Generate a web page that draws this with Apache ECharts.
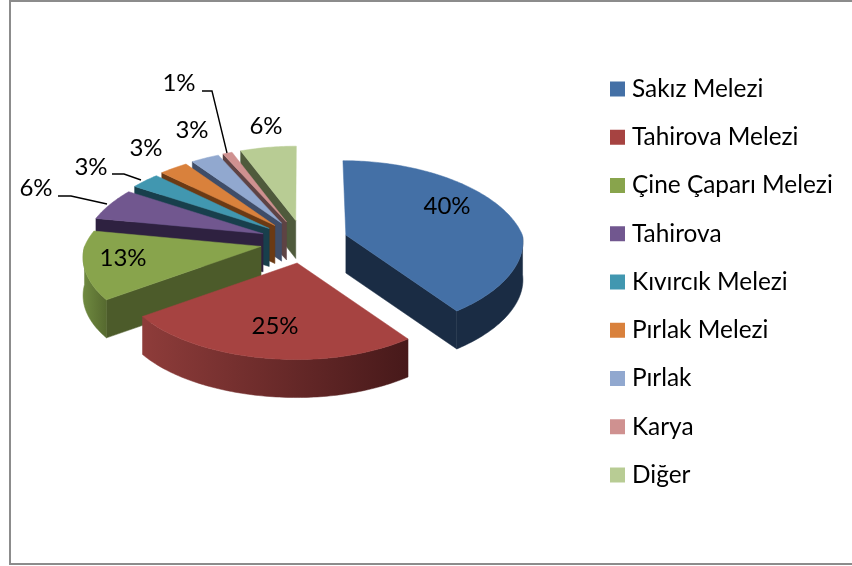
<!DOCTYPE html>
<html><head><meta charset="utf-8">
<style>html,body{margin:0;padding:0;background:#fff}#c{width:852px;height:566px}</style>
<script src="https://cdn.jsdelivr.net/npm/echarts@6/dist/echarts.min.js"></script>
</head><body><div id="c"></div>
<script>
const categories = ['Sakız Melezi','Tahirova Melezi','Çine Çaparı Melezi','Tahirova','Kıvırcık Melezi','Pırlak Melezi','Pırlak','Karya','Diğer'];
const values = [40,25,13,6,3,3,3,1,6];
const topColors = ['#4470A6','#A64341','#88A44C','#71578F','#4197B0','#D9813C','#91A8CF','#CF9190','#B8CC94'];
const cutColors = ['#1A2C44','#4A1A18','#4C5B2A','#2E2140','#183F4C','#6B3A14','#3F4D68','#5E4344','#4F5A3C'];
const arcColors = [['#1A2C44','#1A2C44'],['#8E3C3A','#47191A'],['#6F8A40','#56692F'],['#2E2140','#2E2140'],['#183F4C','#183F4C'],['#6B3A14','#6B3A14'],['#3F4D68','#3F4D68'],['#5E4344','#5E4344'],['#4F5A3C','#4F5A3C']];
// label layout
const labelAt = [[447,206],[275,326],[123,258],[36,188],[91,167],[146,148],[192,130],[179,83],[266,126]];
const leaderAt = {3:[[58,196],[71,196],[107,204]],4:[[112,174],[124,174],[141,180]],7:[[202,91],[212,91],[227,153]]};

const FONT = 'Lato, Carlito, sans-serif';
const CX=304, CY=241.7, EXPLODE=44, EXPLODE_Y=0.49, A=176.5, B=84, PX_RIGHT=0.08, PX_LEFT=0.13, PX_BACK=0.18, PY=0.13, SKEW=0.07, DEPTH=38;
const total = values.reduce((a,b)=>a+b,0);
const rad = d=>d*Math.PI/180;
function angles(i){
  let s=0; for(let k=0;k<i;k++) s+=values[k];
  return [s/total*360,(s+values[i])/total*360];
}
function apex(mid){ return [CX+EXPLODE*Math.sin(rad(mid)), CY-EXPLODE*EXPLODE_Y*Math.cos(rad(mid))]; }
function rim(ap,t){
  const u=Math.sin(rad(t)), v=-Math.cos(rad(t));
  const px=v<0?PX_BACK:(u<0?PX_LEFT:PX_RIGHT);
  const skew=v<0?(CX-ap[0])*(-v)*SKEW:0;
  return [ap[0]+A*u/(1-px*v)+skew, ap[1]+B*v/(1-PY*v)];
}
const down=p=>[p[0],p[1]+DEPTH];
function renderItem(i){
  return function(params,api){
    const share=api.value(0)/total*360;
    const st=angles(i)[0], en=st+share, mid=(st+en)/2, ap=apex(mid);
    const arc=[]; const n=Math.max(2,Math.ceil(share));
    for(let k=0;k<=n;k++) arc.push(st+share*k/n);
    const top=[ap].concat(arc.map(t=>rim(ap,t)));
    const kids=[];
    const poly=(pts,fill)=>kids.push({type:'polygon',shape:{points:pts},style:{fill:fill,stroke:fill,lineWidth:0.5}});
    // cut faces that turn toward the viewer
    if(-Math.sin(rad(st))>0) poly([ap,rim(ap,st),down(rim(ap,st)),down(ap)],cutColors[i]);
    if(Math.sin(rad(en))>0) poly([ap,rim(ap,en),down(rim(ap,en)),down(ap)],cutColors[i]);
    // outer rim, front half only
    const front=arc.filter(t=>-Math.cos(rad(t))>=0);
    if(front.length>1){
      const upper=front.map(t=>rim(ap,t));
      const lower=upper.map(down).reverse();
      poly(upper.concat(lower),new echarts.graphic.LinearGradient(0,0,1,0,[
        {offset:0,color:arcColors[i][0]},
        {offset:1,color:arcColors[i][1]}]));
    }
    poly(top,topColors[i]);
    if(leaderAt[i]) kids.push({type:'polyline',shape:{points:leaderAt[i]},style:{stroke:'#000',lineWidth:1.4,fill:null}});
    kids.push({type:'text',style:{text:api.value(0)+'%',x:labelAt[i][0],y:labelAt[i][1],align:'center',verticalAlign:'middle',fill:'#000',font:'24px '+FONT}});
    return {type:'group',children:kids};
  };
}
const series=categories.map((name,i)=>{
  const a=angles(i), mid=(a[0]+a[1])/2;
  return {type:'custom',name:name,coordinateSystem:'none',silent:true,
    z:2+Math.round((1-Math.cos(rad(mid)))*200),
    itemStyle:{color:topColors[i]},data:[[values[i]]],renderItem:renderItem(i)};
});
const chart=echarts.init(document.getElementById('c'),null,{renderer:'canvas'});
chart.setOption({
  animation:false,backgroundColor:'#fff',
  legend:{orient:'vertical',left:610,top:77,padding:0,itemWidth:15,itemHeight:15,itemGap:24.25,icon:'rect',
    data:categories,selectedMode:false,
    textStyle:{fontFamily:FONT,fontSize:24.4,color:'#000',padding:[0,0,0,2],lineHeight:24}},
  graphic:[{type:'rect',z:0,silent:true,shape:{x:10,y:1,width:860,height:563},style:{fill:'none',stroke:'#8c8c8c',lineWidth:2}}],
  series:series
});
</script></body></html>
